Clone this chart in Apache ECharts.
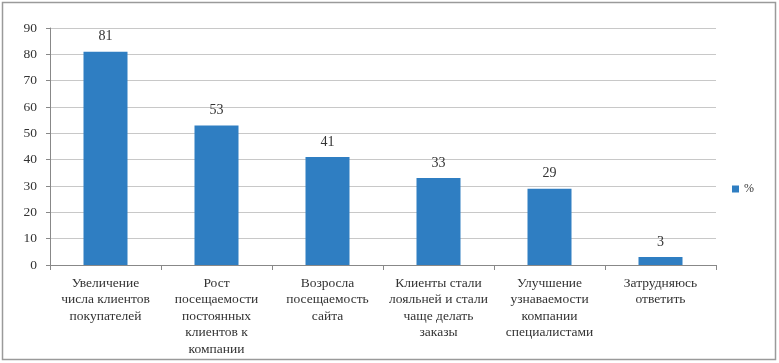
<!DOCTYPE html>
<html>
<head>
<meta charset="utf-8">
<script src="https://cdn.jsdelivr.net/npm/echarts@6/dist/echarts.min.js"></script>
<style>
  html, body { margin: 0; padding: 0; background: #fff; }
  #chart { width: 779px; height: 363px; }
</style>
</head>
<body>
<div id="chart"></div>
<script>
const categories = [
  'Увеличение\nчисла клиентов\nпокупателей',
  'Рост\nпосещаемости\nпостоянных\nклиентов к\nкомпании',
  'Возросла\nпосещаемость\nсайта',
  'Клиенты стали\nлояльней и стали\nчаще делать\nзаказы',
  'Улучшение\nузнаваемости\nкомпании\nспециалистами',
  'Затрудняюсь\nответить'
]
const percents = [81, 53, 41, 33, 29, 3]
const seriesName = '%'

const chart = echarts.init(document.getElementById('chart'))
const font = 'Liberation Serif'

chart.setOption({
  animation: false,
  graphic: [{
    type: 'rect',
    shape: { x: 2.5, y: 2.5, width: 773, height: 357 },
    style: { fill: 'none', stroke: '#9a9a9a', lineWidth: 1.5 }
  }],
  grid: { left: 50, right: 63, top: 28, bottom: 98 },
  legend: {
    right: 20,
    top: 178,
    icon: 'rect',
    itemWidth: 7,
    itemHeight: 7,
    itemGap: 4,
    textStyle: { fontFamily: font, fontSize: 12, color: '#333' },
    data: [seriesName]
  },
  xAxis: {
    type: 'category',
    data: categories,
    axisLine: { lineStyle: { color: '#888' } },
    axisTick: { show: true, lineStyle: { color: '#888' } },
    axisLabel: {
      interval: 0,
      fontFamily: font,
      fontSize: 13.5,
      lineHeight: 16.5,
      color: '#333',
      margin: 10
    }
  },
  yAxis: {
    type: 'value',
    min: 0,
    max: 90,
    interval: 10,
    axisLine: { show: true, lineStyle: { color: '#888' } },
    axisTick: { show: true, length: 4, lineStyle: { color: '#888' } },
    axisLabel: { fontFamily: font, fontSize: 13.5, color: '#333', margin: 13 },
    splitLine: { lineStyle: { color: '#c8c8c8' } }
  },
  series: [{
    name: seriesName,
    type: 'bar',
    data: percents,
    barWidth: 44,
    itemStyle: { color: '#2f7ec2' },
    label: {
      show: true,
      position: 'top',
      distance: 8,
      fontFamily: font,
      fontSize: 14,
      color: '#333'
    }
  }]
})
</script>
</body>
</html>
